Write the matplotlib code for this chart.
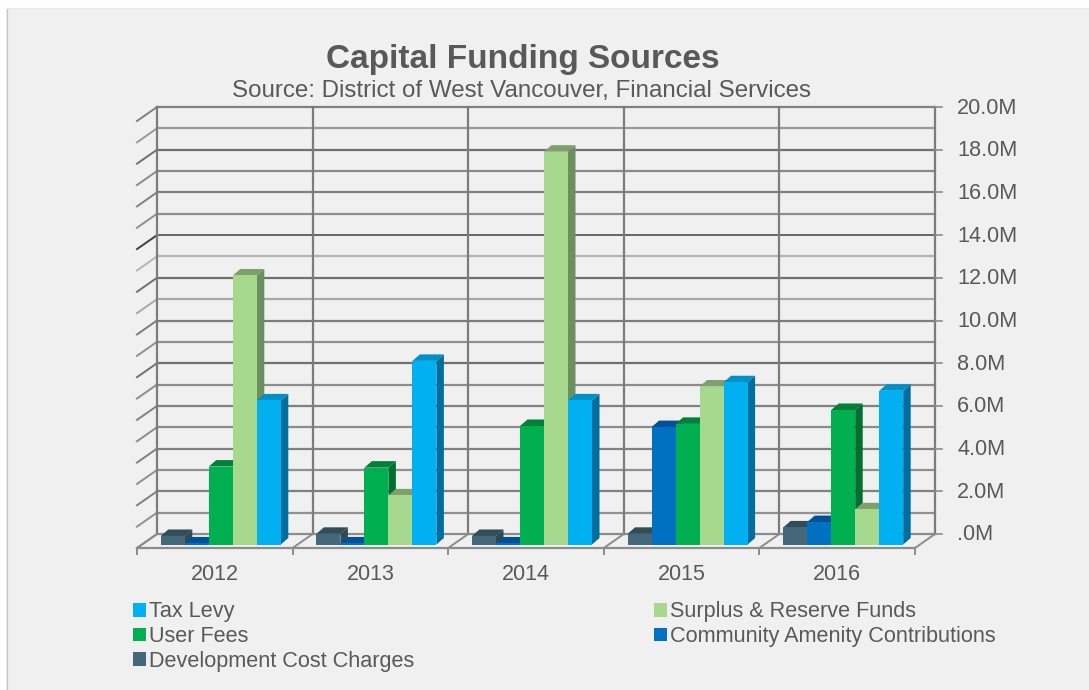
import matplotlib
matplotlib.use('Agg')
import matplotlib.pyplot as plt
from matplotlib.patches import Polygon, Patch, Rectangle

plt.rcParams['font.family'] = ['Liberation Sans', 'DejaVu Sans']

# Data (millions)
years = ['2012', '2013', '2014', '2015', '2016']
dev_cost = [0.4, 0.5, 0.4, 0.5, 0.8]
amenity = [0.05, 0.05, 0.05, 5.5, 1.05]
user_fees = [3.65, 3.6, 5.55, 5.65, 6.3]
surplus = [12.6, 2.3, 18.4, 7.4, 1.65]
tax_levy = [6.75, 8.6, 6.75, 7.6, 7.2]
y_ticks = [0, 2, 4, 6, 8, 10, 12, 14, 16, 18, 20]
y_labels = ['.0M', '2.0M', '4.0M', '6.0M', '8.0M', '10.0M', '12.0M', '14.0M', '16.0M', '18.0M', '20.0M']

# name, values, front, side, top
series = [
    ('Development Cost Charges', dev_cost, '#44687a', '#2f4a55', '#304d58'),
    ('Community Amenity Contributions', amenity, '#0070c0', '#004f88', '#00509a'),
    ('User Fees', user_fees, '#00b050', '#006f30', '#008038'),
    ('Surplus & Reserve Funds', surplus, '#a6d98e', '#6b8f5e', '#7f9f6b'),
    ('Tax Levy', tax_levy, '#00b0f0', '#006f9f', '#0090c8'),
]

TEXT = '#595959'
W, H = 1089, 690
fig = plt.figure(figsize=(W / 100, H / 100), dpi=100, facecolor='white')

# grey card behind everything, runs off the bottom and right edge
fig.add_artist(Rectangle((6 / W, 0), (W - 6) / W, 682 / H, transform=fig.transFigure,
                         facecolor='#f0f0f0', edgecolor='none', zorder=-5))
fig.add_artist(plt.Line2D([6.5 / W, 6.5 / W], [0, 1 - 8 / H], color='#c4c4c4', lw=0.9, zorder=-4))
fig.add_artist(plt.Line2D([6 / W, 1], [1 - 7.5 / H, 1 - 7.5 / H], color='#e8e8e8', lw=0.9, zorder=-4))

# axes is the back wall of the 3d box
ax = fig.add_axes([157 / W, 1 - 534 / H, 778 / W, 427 / H])
ax.set_xlim(0, 5)
ax.set_ylim(0, 20)
ax.axis('off')

px = 5 / 778   # one pixel in x units
py = 20 / 427  # one pixel in y units
floor_dx, floor_dy = -20 * px, -14 * py

# horizontal grid, every 1M, the shades vary in the original
shades = ['#808080', '#9a9a9a', '#707070', '#8a8a8a', '#808080', '#8f8f8f', '#404040', '#b4b4b4',
          '#707070', '#a8a8a8', '#7c7c7c', '#909090', '#707070', '#8c8c8c', '#808080', '#8c8c8c',
          '#808080', '#909090', '#808080', '#909090', '#8c8c8c']
for i, c in enumerate(shades):
    lvl = 20 - i
    lw = 1.1 if lvl == 14 else 1.6
    ax.plot([0, 5], [lvl, lvl], color=c, lw=lw, clip_on=False, zorder=1)
    ax.plot([0, floor_dx], [lvl, lvl + floor_dy], color=c, lw=1.4, clip_on=False, zorder=1)

# vertical grid and floor
for i in range(6):
    ax.plot([i, i], [0, 20], color='#7c7c7c', lw=1.6, clip_on=False, zorder=1)
    ax.plot([i, i + floor_dx], [0, floor_dy], color='#8c8c8c', lw=1.4, clip_on=False, zorder=1)
    ax.plot([i + floor_dx] * 2, [floor_dy, floor_dy - 6 * py], color='#8c8c8c', lw=1.4, clip_on=False, zorder=1)
ax.plot([floor_dx, 5 + floor_dx], [floor_dy, floor_dy], color='#8c8c8c', lw=1.6, clip_on=False, zorder=1)

# right axis ticks and labels
for v, lab in zip(y_ticks, y_labels):
    ax.plot([5, 5 + 7 * px], [v, v], color='#8c8c8c', lw=1.2, clip_on=False, zorder=1)
    ax.text(5 + 22 * px, v - 1 * py, lab, ha='left', va='center', fontsize=15.6, color=TEXT)

# category labels
for i, y in enumerate(years):
    ax.text(i + 0.5 + floor_dx, -40 * py, y, ha='center', va='center', fontsize=15.5, color=TEXT)

# bars
bar_w = 24 * px
depth_x, depth_y = 7.5 * px, 6.5 * py
plane_dx, plane_dy = -14 * px, -10.5 * py
z = 3
for i in range(len(years)):
    left = i + 0.5 + plane_dx - 2.5 * bar_w
    for j, (name, vals, front, side, top) in enumerate(series):
        x0 = left + j * bar_w
        x1 = x0 + bar_w
        base = plane_dy
        tip = base + vals[i]
        ax.add_patch(Polygon([(x1, base), (x1 + depth_x, base + depth_y), (x1 + depth_x, tip + depth_y), (x1, tip)],
                             facecolor=side, edgecolor='none', clip_on=False, zorder=z))
        ax.add_patch(Polygon([(x0, tip), (x0 + depth_x, tip + depth_y), (x1 + depth_x, tip + depth_y), (x1, tip)],
                             facecolor=top, edgecolor='none', clip_on=False, zorder=z))
        ax.bar(x0, vals[i], width=bar_w, bottom=base, align='edge', color=front, edgecolor='none',
               clip_on=False, zorder=z + 0.5)
        z += 1

# titles
fig.text(523 / W, 1 - 59.5 / H, 'Capital Funding Sources', ha='center', va='center',
         fontsize=24, fontweight='bold', color=TEXT)
fig.text(521.5 / W, 1 - 91 / H, 'Source: District of West Vancouver, Financial Services', ha='center', va='center',
         fontsize=17.4, color=TEXT)

# legend
order = [4, 2, 0, 3, 1]
handles = [Patch(facecolor=series[k][2], edgecolor='none', label=series[k][0]) for k in order]
fig.legend(handles=handles, ncol=2, loc='upper left', bbox_to_anchor=(129 / W, 1 - 597 / H), frameon=False,
           fontsize=15.6, labelcolor=TEXT, handlelength=0.6, handleheight=0.6, handletextpad=0.14,
           labelspacing=0.17, columnspacing=11.06, borderpad=0.2, borderaxespad=0)

fig.savefig('out.png', dpi=100, facecolor='white')
